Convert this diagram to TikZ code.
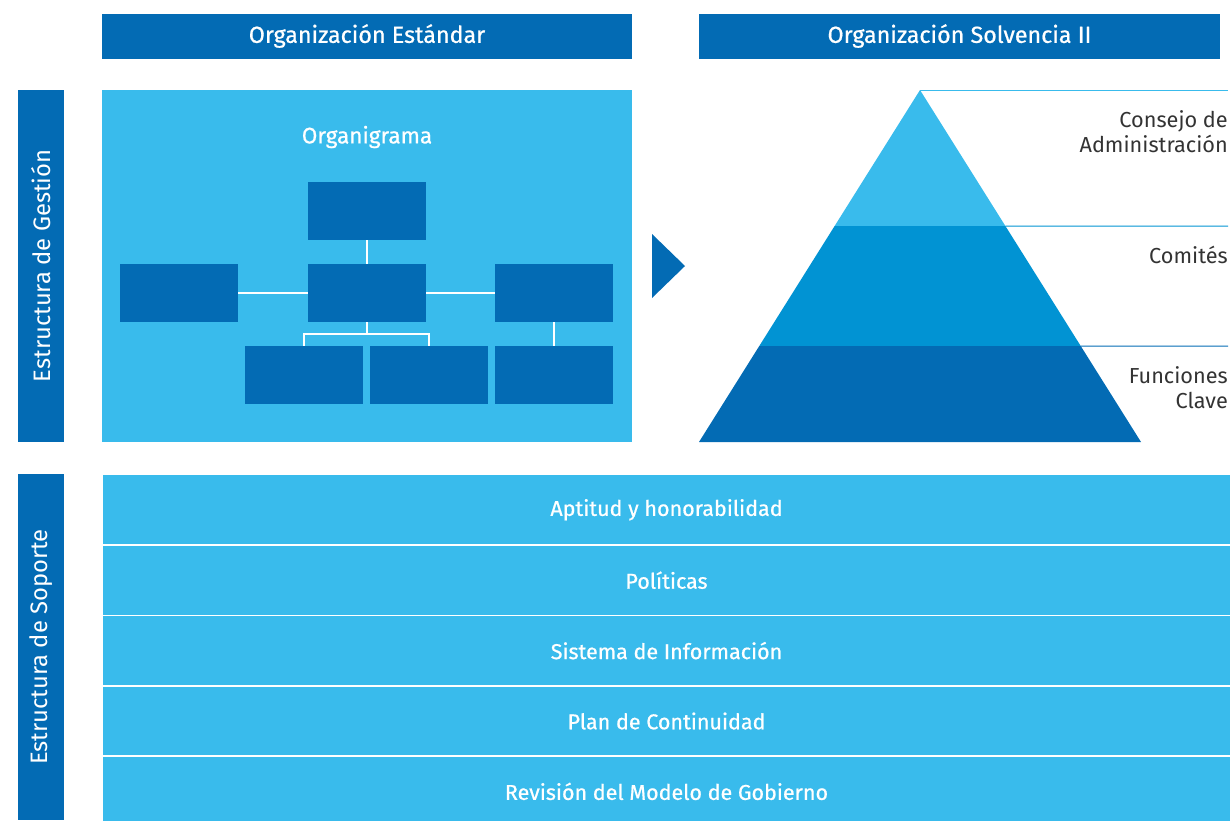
\documentclass[tikz,border=0pt]{standalone}
\usepackage{fontspec}
\setmainfont{Fira Sans}
\newfontfamily\firamed{Fira Sans}[FakeBold=0.7]
\usetikzlibrary{calc}
\definecolor{dkblue}{RGB}{3,107,180}
\definecolor{ltblue}{RGB}{57,187,236}
\definecolor{mdblue}{RGB}{1,147,211}
\definecolor{labelgray}{RGB}{51,51,51}
\tikzset{
  hdr/.style={fill=dkblue, text=white, minimum height=45, inner sep=0pt, font=\firamed\fontsize{23.3}{26}\selectfont},
  sidebar/.style={fill=dkblue, text=white, minimum height=46, inner sep=0pt, rotate=90, font=\fontsize{23.8}{26}\selectfont},
  orgbox/.style={fill=dkblue, minimum width=118, minimum height=58, inner sep=0pt},
  conn/.style={draw=white, line width=1.2pt},
  supportrow/.style={fill=ltblue, draw=white, line width=1.5pt, minimum width=1129, minimum height=70.4, inner sep=0pt, text=white, font=\firamed\fontsize{21.5}{24}\selectfont},
  pyrlabel/.style={anchor=east, align=right, text=labelgray, inner sep=0pt, font=\fontsize{21.7}{25}\selectfont},
}
\begin{document}
\begin{tikzpicture}[x=1pt, y=-1pt]
\useasboundingbox (0,0) rectangle (1231,820);
% headers
\node[hdr, minimum width=530] (stdhdr) at (367,36) {Organización Estándar};
\node[hdr, minimum width=521] (solvhdr) at (959.5,36) {Organización Solvencia II};
% side bars
\node[sidebar, minimum width=352] (gestion) at (41,266) {Estructura de Gestión};
\node[sidebar, minimum width=346] (soporte) at (41,647) {Estructura de Soporte};
% organigrama
\node[fill=ltblue, minimum width=530, minimum height=352, inner sep=0pt] (orgpanel) at (367,266) {};
\node[text=white, font=\firamed\fontsize{22.5}{26}\selectfont] (orgtitle) at (367,137) {Organigrama};
\node[orgbox] (ceo) at (367,211) {};
\node[orgbox] (mid) at (367,293) {};
\node[orgbox] (left) at (179,293) {};
\node[orgbox] (right) at (554,293) {};
\node[orgbox] (bota) at (304,375) {};
\node[orgbox] (botb) at (429,375) {};
\node[orgbox] (botc) at (554,375) {};
\coordinate (fork) at (367,334);
\draw[conn] (ceo) -- (mid);
\draw[conn] (left) -- (mid);
\draw[conn] (mid) -- (right);
\draw[conn] (right) -- (botc);
\draw[conn] (mid.south) -- (fork);
\draw[conn] (bota.north) |- (fork) -| (botb.north);
% arrow
\fill[dkblue] (652,234) -- (685,266) -- (652,298) -- cycle;
% pyramid
\coordinate (apex) at (920,90);
\coordinate (bl) at (699,442);
\coordinate (br) at (1141,442);
\coordinate (l1) at ($(apex)!0.3864!(bl)$);
\coordinate (r1) at ($(apex)!0.3864!(br)$);
\coordinate (l2) at ($(apex)!0.7273!(bl)$);
\coordinate (r2) at ($(apex)!0.7273!(br)$);
\fill[ltblue] (apex) -- (r1) -- (l1) -- cycle;
\fill[mdblue] (l1) -- (r1) -- (r2) -- (l2) -- cycle;
\fill[dkblue] (l2) -- (r2) -- (br) -- (bl) -- cycle;
\draw[ltblue, line width=1pt] (apex) -- (1228,90);
\draw[mdblue, line width=1pt] (r1) -- (1228,226);
\draw[dkblue, line width=1pt] (r2) -- (1228,346);
\node[pyrlabel] (consejo) at (1228,132) {Consejo de\\Administración};
\node[pyrlabel] (comites) at (1228,255) {Comités};
\node[pyrlabel] (funciones) at (1228,388) {Funciones\\Clave};
% support rows
\foreach \txt [count=\i from 0] in {Aptitud y honorabilidad,Políticas,Sistema de Información,Plan de Continuidad,Revisión del Modelo de Gobierno}{
  \node[supportrow] (row\i) at (666.5,{509.8+\i*70.4}) {\txt};
}
\end{tikzpicture}
\end{document}
